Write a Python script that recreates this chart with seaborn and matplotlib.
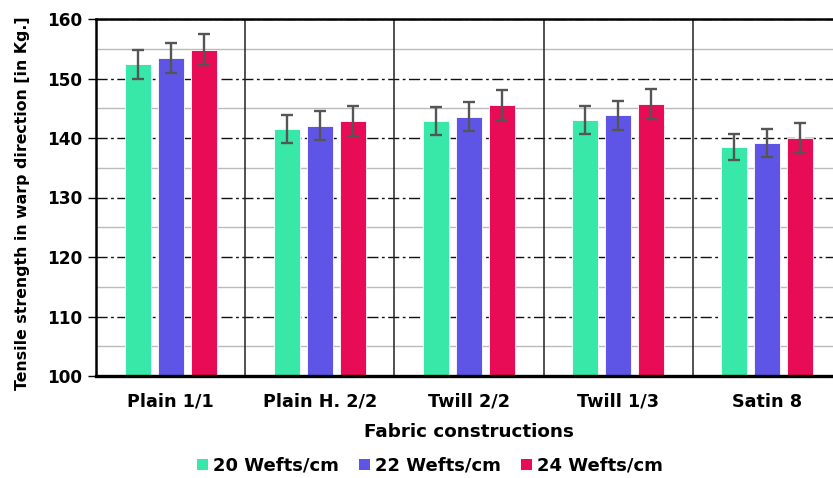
import numpy as np
import pandas as pd
import matplotlib
matplotlib.use("Agg")
import matplotlib.pyplot as plt
import seaborn as sns
from matplotlib.ticker import MultipleLocator
from matplotlib.patches import Patch

categories = ["Plain 1/1", "Plain H. 2/2", "Twill 2/2", "Twill 1/3", "Satin 8"]
series = ["20 Wefts/cm", "22 Wefts/cm", "24 Wefts/cm"]
wefts20 = [152.4, 141.5, 142.9, 143.0, 138.5]
wefts22 = [153.4, 142.1, 143.6, 143.8, 139.1]
wefts24 = [154.8, 142.9, 145.5, 145.7, 140.0]
err20 = [2.4, 2.4, 2.35, 2.35, 2.25]
err22 = [2.5, 2.5, 2.5, 2.45, 2.35]
err24 = [2.6, 2.5, 2.5, 2.5, 2.6]
colors = ["#38E8A8", "#5E55E6", "#E80B55"]

vals = [wefts20, wefts22, wefts24]
errs = [err20, err22, err24]
rows = []
for s, v, e in zip(series, vals, errs):
    for c, vv, ee in zip(categories, v, e):
        rows.append({"Construction": c, "Series": s, "Value": vv, "Err": ee})
df = pd.DataFrame(rows)

sns.set_style("white")
plt.rcParams["font.family"] = ["DejaVu Sans"]
plt.rcParams["font.weight"] = "bold"
plt.rcParams["text.color"] = "black"
plt.rcParams["axes.labelcolor"] = "black"
plt.rcParams["xtick.color"] = "black"
plt.rcParams["ytick.color"] = "black"

fig = plt.figure(figsize=(8.33, 4.78), dpi=100)
ax = fig.add_axes([96/833, 1 - 376/478, (842 - 96)/833, (376 - 19)/478])

sns.barplot(data=df, x="Construction", y="Value", hue="Series", order=categories,
            hue_order=series, palette=colors, width=0.663, gap=0.21,
            errorbar=None, ax=ax, legend=False, edgecolor="white", linewidth=0.6,
            saturation=1)

# error bars at bar centers
for i, (s, e) in enumerate(zip(series, errs)):
    cont = ax.containers[i]
    xs = [p.get_x() + p.get_width() / 2 for p in cont.patches]
    ys = [p.get_height() + p.get_y() for p in cont.patches]
    ax.errorbar(xs, ys, yerr=e, fmt="none", ecolor="#555555", elinewidth=1.7,
                capsize=4.0, capthick=1.7, zorder=5)

ax.set_ylim(100, 160)
ax.set_xlim(-0.5, 4.5)
ax.yaxis.set_major_locator(MultipleLocator(10))
ax.yaxis.set_minor_locator(MultipleLocator(5))
ax.grid(False)
ax.set_axisbelow(True)
ax.yaxis.grid(True, which="minor", color="#bbbbbb", linewidth=1.0, linestyle="-")
ax.yaxis.grid(True, which="major", color="#111111", linewidth=1.0, linestyle=(0, (8, 2.5, 2, 2.5)))
for xv in [0.5, 1.5, 2.5, 3.5]:
    ax.axvline(xv, color="#222222", linewidth=1.1, zorder=1)

for sp in ["left", "bottom", "top"]:
    ax.spines[sp].set_visible(True)
    ax.spines[sp].set_color("black")
ax.spines["left"].set_linewidth(1.8)
ax.spines["bottom"].set_linewidth(2.4)
ax.spines["top"].set_linewidth(1.8)
ax.spines["right"].set_visible(False)

ax.tick_params(axis="y", which="major", direction="out", length=6, width=1, color="black",
               labelcolor="black", labelsize=12.2, pad=4, left=True)
ax.tick_params(axis="y", which="minor", length=0)
ax.tick_params(axis="x", length=0, labelsize=12.7, pad=12, labelcolor="black")
for lab in ax.get_yticklabels() + ax.get_xticklabels():
    lab.set_fontweight("bold")

ax.set_xlabel("Fabric constructions", fontsize=13.2, fontweight="bold", labelpad=9,
              color="black")
ax.set_ylabel("Tensile strength in warp direction [in Kg.]", fontsize=11.3,
              fontweight="bold", color="black")
ax.yaxis.set_label_coords(-0.088, 0.483)

handles = [Patch(facecolor=c, edgecolor="none") for c in colors]
fig.legend(handles, series, loc="center", bbox_to_anchor=(430/833, 1 - 466/478),
           ncol=3, frameon=False, handlelength=0.6, handleheight=0.6,
           handletextpad=0.3, columnspacing=1.1,
           prop={"weight": "bold", "size": 13}, labelcolor="black")

fig.savefig("out.png", dpi=100)
